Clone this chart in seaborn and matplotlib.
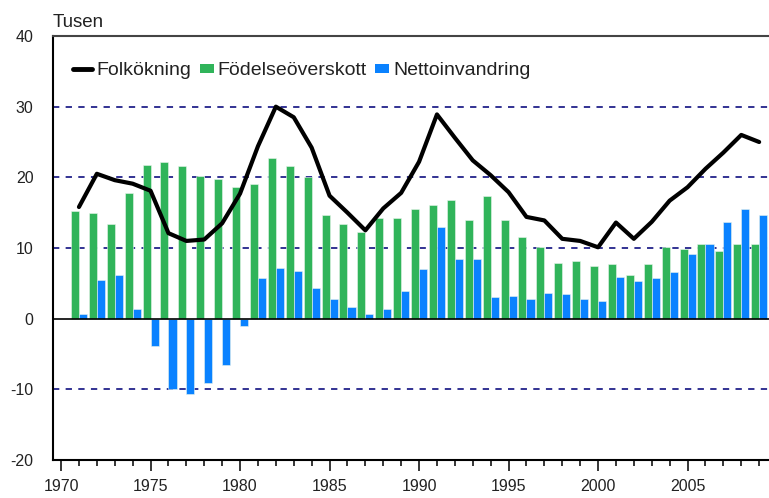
import numpy as np
import pandas as pd
import matplotlib
matplotlib.use('Agg')
import matplotlib.pyplot as plt
import seaborn as sns
from matplotlib.lines import Line2D
from matplotlib.patches import Patch, Rectangle
from matplotlib.legend_handler import HandlerPatch

# data (tusen)
years = list(range(1971, 2010))
fodelseoverskott = [15.3, 15.0, 13.4, 17.8, 21.8, 22.1, 21.6, 20.2, 19.8, 18.6,
                    19.1, 22.8, 21.6, 20.0, 14.6, 13.4, 12.3, 14.3, 14.3, 15.5,
                    16.1, 16.8, 13.9, 17.3, 13.9, 11.6, 10.2, 7.9, 8.1, 7.5,
                    7.8, 6.2, 7.8, 10.2, 9.8, 10.6, 9.6, 10.5, 10.5]
nettoinvandring = [0.7, 5.5, 6.2, 1.4, -3.8, -9.9, -10.6, -9.1, -6.5, -1.1,
                   5.7, 7.2, 6.8, 4.4, 2.8, 1.6, 0.7, 1.4, 3.9, 7.0,
                   13.0, 8.4, 8.4, 3.0, 3.2, 2.8, 3.7, 3.5, 2.8, 2.5,
                   5.9, 5.3, 5.7, 6.6, 9.1, 10.5, 13.7, 15.5, 14.6]
folkokning = [15.8, 20.5, 19.6, 19.1, 18.1, 12.1, 11.0, 11.2, 13.5, 17.7,
              24.4, 30.0, 28.5, 24.2, 17.4, 15.0, 12.5, 15.6, 17.8, 22.2,
              28.9, 25.6, 22.4, 20.3, 17.9, 14.4, 13.9, 11.3, 11.0, 10.1,
              13.6, 11.3, 13.7, 16.7, 18.6, 21.2, 23.5, 26.0, 25.0]
series_names = ['Födelseöverskott', 'Nettoinvandring']
line_name = 'Folkökning'

GREEN = '#30b45a'
BLUE = '#0a82ff'

sns.set_style('white')
plt.rcParams['font.family'] = ['Liberation Sans', 'DejaVu Sans']
plt.rcParams['axes.unicode_minus'] = False

df = pd.DataFrame({'year': years + years,
                   'value': fodelseoverskott + nettoinvandring,
                   'serie': [series_names[0]] * len(years) + [series_names[1]] * len(years)})

fig = plt.figure(figsize=(7.69, 4.98), dpi=100)
ax = fig.add_axes([53 / 769, 38 / 498, 716 / 769, 424 / 498])

# grid lines
for v in [-10, 10, 20, 30]:
    ax.axhline(v, color='#22228a', lw=1.3, ls=(0, (3.5, 3.5)), zorder=0)

sns.barplot(data=df, x='year', y='value', hue='serie', hue_order=series_names,
            palette=[GREEN, BLUE], native_scale=True, width=0.9, gap=0,
            saturation=1, errorbar=None, legend=False, ax=ax,
            edgecolor='#e8f4ec', linewidth=0.4, zorder=2)
ax.axhline(0, color='black', lw=1.2, zorder=3)
sns.lineplot(x=years, y=folkokning, color='black', lw=3, ax=ax,
             legend=False, zorder=4, solid_joinstyle='round')

ax.set_xlim(1969.55, 2009.55)
ax.set_ylim(-20, 40)
ax.set_yticks(range(-20, 41, 10))
ax.set_xticks(range(1970, 2009, 5))
ax.set_xticks(range(1970, 2010), minor=True)
ax.set_xlabel('')
ax.set_ylabel('')
ax.tick_params(axis='y', length=0, pad=14, labelsize=11.5, labelcolor='#222222')
ax.tick_params(axis='x', which='major', length=8, width=1.3, direction='out',
               pad=6, labelsize=11.5, labelcolor='#222222', bottom=True)
ax.tick_params(axis='x', which='minor', length=4, width=1.3, direction='out', bottom=True)

for s in ['left', 'bottom']:
    ax.spines[s].set_color('black')
    ax.spines[s].set_linewidth(1.5)
ax.spines['top'].set_color('#444444')
ax.spines['top'].set_linewidth(1.5)
ax.spines['right'].set_visible(False)

fig.text(53 / 769, 1 - 27 / 498, 'Tusen', fontsize=13.5, color='#222222',
         ha='left', va='baseline')


class SmallRect(HandlerPatch):
    def create_artists(self, legend, orig_handle, xdescent, ydescent,
                       width, height, fontsize, trans):
        w = width * 0.72
        r = Rectangle((-xdescent + (width - w), -ydescent), w, height,
                      facecolor=orig_handle.get_facecolor(), edgecolor='none',
                      transform=trans)
        return [r]


handles = [Line2D([], [], color='black', lw=3.5),
           Patch(facecolor=GREEN), Patch(facecolor=BLUE)]
labels = [line_name] + series_names
leg = ax.legend(handles, labels, loc='upper left', bbox_to_anchor=(20 / 716, 0.938),
                ncol=3, frameon=False, fontsize=14, handlelength=1.0,
                handleheight=0.36, handletextpad=0.22, columnspacing=0.13,
                borderpad=0, borderaxespad=0,
                handler_map={Patch: SmallRect()})
for t in leg.get_texts():
    t.set_color('#222222')

fig.savefig('out.png', dpi=100)
